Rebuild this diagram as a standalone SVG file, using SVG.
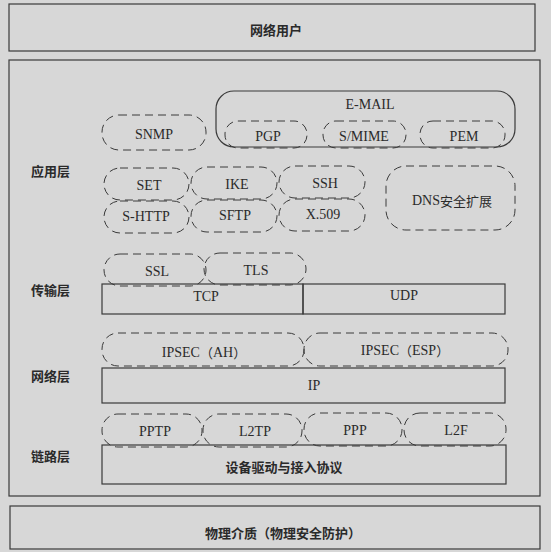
<svg xmlns="http://www.w3.org/2000/svg" width="551" height="552" viewBox="0 0 551 552">
<style>
.box{fill:none;stroke:#3a3a3a;stroke-width:1.2}
.pill{fill:none;stroke:#3a3a3a;stroke-width:1;stroke-dasharray:8 5}
.lt{font-family:'Liberation Serif','Times New Roman',serif;font-size:14px;fill:#2a2a2a;text-anchor:middle;dominant-baseline:central}
.cj{font-family:'Noto Sans CJK SC',sans-serif;font-size:13px}
.cn{font-family:'Noto Sans CJK SC',sans-serif;font-size:13px;font-weight:bold;fill:#2a2a2a;text-anchor:middle;dominant-baseline:central}
.lbl{font-family:'Noto Sans CJK SC',sans-serif;font-size:13px;font-weight:bold;fill:#2a2a2a;dominant-baseline:central}
</style>
<rect width="551" height="552" fill="#d7d7d7"/>
<g id="user"><rect class="box" x="9" y="4" width="526" height="47"/><text class="cn" x="276" y="29">网络用户</text></g>
<g id="stack"><rect class="box" x="9" y="60" width="531" height="436"/></g>
<g id="layer-labels">
<text class="lbl" x="31" y="170">应用层</text>
<text class="lbl" x="31" y="289">传输层</text>
<text class="lbl" x="31" y="375">网络层</text>
<text class="lbl" x="31" y="455">链路层</text>
</g>
<g id="email"><rect class="box" x="216" y="91" width="299" height="56" rx="18"/><text class="lt" x="370" y="104">E-MAIL</text></g>
<g id="snmp"><rect class="pill" x="102" y="115" width="104" height="35" rx="17"/><text class="lt" x="154" y="134">SNMP</text></g>
<g id="pgp"><rect class="pill" x="225" y="121" width="82" height="27" rx="13"/><text class="lt" x="268" y="136">PGP</text></g>
<g id="smime"><rect class="pill" x="323" y="121" width="83" height="27" rx="13"/><text class="lt" x="364" y="136">S/MIME</text></g>
<g id="pem"><rect class="pill" x="420" y="121" width="85" height="27" rx="13"/><text class="lt" x="464" y="136">PEM</text></g>
<g id="set"><rect class="pill" x="104" y="168" width="85" height="32" rx="16"/><text class="lt" x="149" y="185">SET</text></g>
<g id="ike"><rect class="pill" x="191" y="167" width="86" height="32" rx="16"/><text class="lt" x="237" y="184">IKE</text></g>
<g id="ssh"><rect class="pill" x="279" y="166" width="86" height="32" rx="16"/><text class="lt" x="325" y="183">SSH</text></g>
<g id="shttp"><rect class="pill" x="104" y="201" width="85" height="32" rx="16"/><text class="lt" x="146" y="216">S-HTTP</text></g>
<g id="sftp"><rect class="pill" x="191" y="200" width="86" height="32" rx="16"/><text class="lt" x="235" y="215">SFTP</text></g>
<g id="x509"><rect class="pill" x="279" y="199" width="86" height="32" rx="16"/><text class="lt" x="323" y="214">X.509</text></g>
<g id="dns"><rect class="pill" x="386" y="166" width="129" height="64" rx="20"/><text class="lt" x="452" y="200">DNS<tspan class="cj">安全扩展</tspan></text></g>
<g id="ssl"><rect class="pill" x="104" y="254" width="102" height="32" rx="16"/><text class="lt" x="157" y="271">SSL</text></g>
<g id="tls"><rect class="pill" x="204" y="253" width="102" height="32" rx="16"/><text class="lt" x="256" y="270">TLS</text></g>
<g id="tcp"><rect class="box" x="102" y="284" width="201" height="30"/><text class="lt" x="206" y="296">TCP</text></g>
<g id="udp"><rect class="box" x="303" y="284" width="202" height="30"/><text class="lt" x="404" y="295">UDP</text></g>
<g id="ipsec-ah"><rect class="pill" x="102" y="333" width="202" height="33" rx="16"/><text class="lt" x="204" y="352">IPSEC<tspan class="cj">（</tspan>AH<tspan class="cj">）</tspan></text></g>
<g id="ipsec-esp"><rect class="pill" x="304" y="333" width="204" height="33" rx="16"/><text class="lt" x="405" y="350">IPSEC<tspan class="cj">（</tspan>ESP<tspan class="cj">）</tspan></text></g>
<g id="ip"><rect class="box" x="102" y="368" width="403" height="35"/><text class="lt" x="314" y="385">IP</text></g>
<g id="pptp"><rect class="pill" x="102" y="414" width="100" height="33" rx="16"/><text class="lt" x="155" y="431">PPTP</text></g>
<g id="l2tp"><rect class="pill" x="203" y="414" width="99" height="33" rx="16"/><text class="lt" x="255" y="431">L2TP</text></g>
<g id="ppp"><rect class="pill" x="304" y="413" width="98" height="33" rx="16"/><text class="lt" x="355" y="430">PPP</text></g>
<g id="l2f"><rect class="pill" x="404" y="413" width="102" height="33" rx="16"/><text class="lt" x="456" y="430">L2F</text></g>
<g id="driver"><rect class="box" x="102" y="445" width="404" height="39"/><text class="cn" x="284" y="466">设备驱动与接入协议</text></g>
<g id="physical"><rect class="box" x="10" y="506" width="530" height="43"/><text class="cn" x="283" y="532">物理介质（物理安全防护）</text></g>
<g id="connectors"></g>
</svg>
